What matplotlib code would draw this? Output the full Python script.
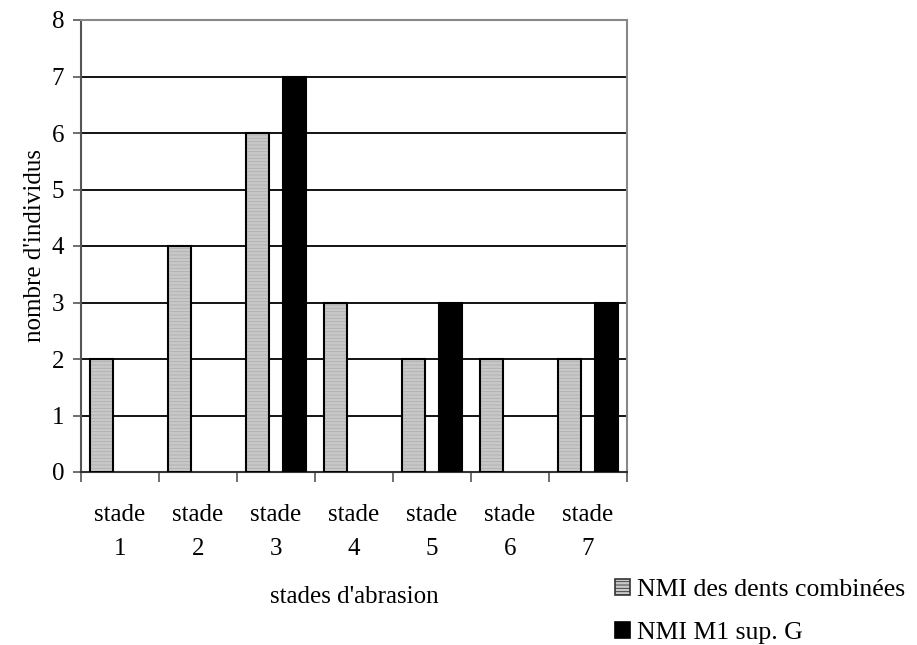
import matplotlib
matplotlib.use("Agg")
import matplotlib.pyplot as plt
import numpy as np
from matplotlib.patches import Patch

categories = ["stade\n1", "stade\n2", "stade\n3", "stade\n4", "stade\n5", "stade\n6", "stade\n7"]
nmi_combined = [2, 4, 6, 3, 2, 2, 2]
nmi_m1 = [0, 0, 7, 0, 3, 0, 3]
series_names = ["NMI des dents combinées", "NMI M1 sup. G"]

plt.rcParams['font.family'] = ['Liberation Serif', 'DejaVu Serif']
plt.rcParams['hatch.linewidth'] = 0.6
FS = 18

fig = plt.figure(figsize=(9.17, 6.45), dpi=100)
ax = fig.add_axes([81/917, 1 - 472/645, (627-81)/917, (472-20)/645])

x = np.arange(len(categories))
w = 0.29
# texture layer for grey bars
ax.bar(x - 0.24, nmi_combined, w, color='#c8c8c8', edgecolor='#b0b0b0', linewidth=0,
       hatch='-----', zorder=3)
b1 = ax.bar(x - 0.24, nmi_combined, w, facecolor='none', edgecolor='black', linewidth=1.5,
            zorder=4)
b2 = ax.bar(x + 0.24, nmi_m1, w, color='black', edgecolor='black', linewidth=1.5,
            zorder=4)
for r, v in zip(b2, nmi_m1):
    if v == 0:
        r.set_linewidth(0)

h1 = Patch(facecolor='#c8c8c8', edgecolor='#333333', linewidth=1.2, hatch='-----')
h2 = Patch(facecolor='black', edgecolor='black', linewidth=1.2)

ax.set_xlim(-0.5, len(categories) - 0.5)
ax.set_ylim(0, 8)
ax.set_yticks(range(0, 9))
ax.yaxis.grid(True, color='black', linewidth=1.3, zorder=0)
ax.set_axisbelow(True)

ax.set_xticks(np.arange(-0.5, len(categories)), minor=False)
ax.set_xticklabels([])
ax.set_xticks(x, minor=True)
ax.set_xticklabels(categories, minor=True, fontsize=FS, linespacing=1.7)
ax.tick_params(axis='x', which='minor', length=0, pad=23)
ax.tick_params(axis='x', which='major', length=7, direction='out', width=1.2, color='#555555')
ax.tick_params(axis='y', length=6, direction='out', width=1.2, color='#555555', labelsize=FS, pad=6)

for s in ['top', 'right']:
    ax.spines[s].set_color('#888888')
    ax.spines[s].set_linewidth(1.5)
ax.spines['left'].set_color('#555555')
ax.spines['left'].set_linewidth(1.5)
ax.spines['bottom'].set_color('#333333')
ax.spines['bottom'].set_linewidth(1.5)

ax.set_xlabel("stades d'abrasion", fontsize=FS, labelpad=19)
ax.set_ylabel("nombre d'individus", fontsize=FS, labelpad=4)

leg = fig.legend(handles=[h1, h2], labels=series_names, loc='upper left',
                 bbox_to_anchor=(615/917, 1 - 579/645), frameon=False, fontsize=18.5,
                 handlelength=0.6, handleheight=0.6, handletextpad=0.25, labelspacing=0.8,
                 borderpad=0, borderaxespad=0)

fig.savefig("out.png", dpi=100)
